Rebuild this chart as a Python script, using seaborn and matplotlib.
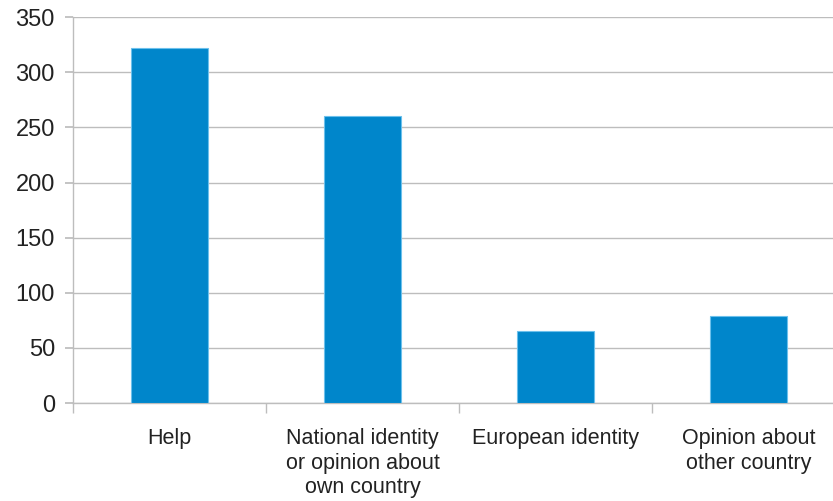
import matplotlib
matplotlib.use("Agg")
import matplotlib.pyplot as plt
import seaborn as sns
import pandas as pd
from matplotlib.ticker import FixedLocator

categories = ["Help", "National identity\nor opinion about\nown country", "European identity", "Opinion about\nother country"]
values = [322, 260, 65, 79]
yticks = [0, 50, 100, 150, 200, 250, 300, 350]

sns.set_theme(style="white")
plt.rcParams['font.family'] = ['Liberation Sans', 'DejaVu Sans']

df = pd.DataFrame({"category": categories, "value": values})

fig = plt.figure(figsize=(8.33, 5.01), dpi=100)
ax = fig.add_axes([0.0876, 0.1956, 0.9268, 0.7699])

sns.barplot(data=df, x="category", y="value", color="#0086CB", width=0.395,
            saturation=1, edgecolor="#6CC0EC", linewidth=0.8, ax=ax, zorder=3)

ax.set_ylim(0, 350)
ax.set_xlim(-0.5, 3.5)
ax.set_yticks(yticks)
ax.yaxis.grid(True, color="#BDBDBD", linewidth=1.0, zorder=0)
ax.set_axisbelow(True)
ax.set_xlabel("")
ax.set_ylabel("")

for s in ["top", "right"]:
    ax.spines[s].set_visible(False)
for s in ["left", "bottom"]:
    ax.spines[s].set_color("#BDBDBD")
    ax.spines[s].set_linewidth(1.0)

ax.tick_params(axis="y", which="major", left=True, length=6, color="#BDBDBD",
               labelsize=17, labelcolor="#222222", pad=7)
ax.tick_params(axis="x", which="major", bottom=False, length=0,
               labelsize=15.5, labelcolor="#222222", pad=18)
ax.xaxis.set_minor_locator(FixedLocator([-0.5, 0.5, 1.5, 2.5, 3.5]))
ax.tick_params(axis="x", which="minor", bottom=True, length=7, color="#BDBDBD", width=1.0)

for lbl in ax.get_xticklabels():
    lbl.set_multialignment("center")
    lbl.set_linespacing(1.22)
    lbl.set_verticalalignment("top")

fig.savefig("out.png", dpi=100)
